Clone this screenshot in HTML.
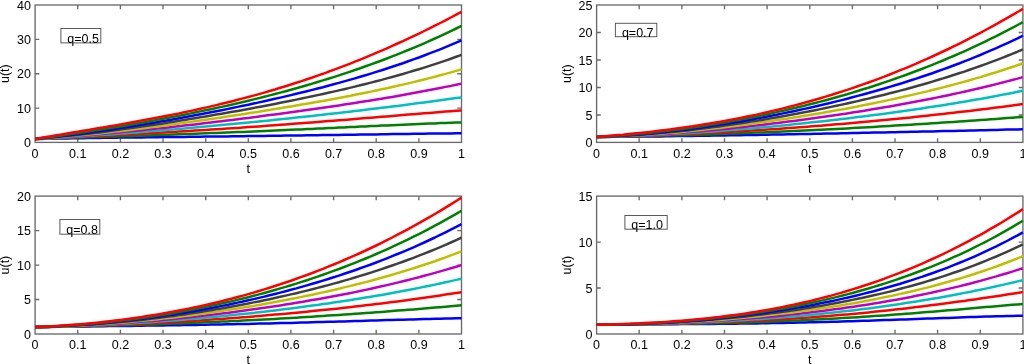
<!DOCTYPE html>
<html><head><meta charset="utf-8"><title>u(t) plots</title>
<style>
html,body{margin:0;padding:0;background:#fff;}
body{width:1024px;height:364px;overflow:hidden;}
svg{display:block;will-change:transform;}
text{font-family:"Liberation Sans",sans-serif;font-size:12.5px;fill:#000;}
.c{fill:none;stroke-width:2.5;stroke-linejoin:round;stroke-linecap:butt;}
.ax{fill:none;stroke:#6a6a6a;stroke-width:1.35;}
.bx{fill:#fff;stroke:#5a5a5a;stroke-width:1;}
</style></head><body>
<svg width="1024" height="364" viewBox="0 0 1024 364">
<rect x="0" y="0" width="1024" height="364" fill="#ffffff"/>

<g>
<rect class="ax" x="35.1" y="5.0" width="426.4" height="137.4"/>
<path class="ax" d="M77.7 142.4v-4.2M77.7 5.0v4.2M120.4 142.4v-4.2M120.4 5.0v4.2M163.0 142.4v-4.2M163.0 5.0v4.2M205.7 142.4v-4.2M205.7 5.0v4.2M248.3 142.4v-4.2M248.3 5.0v4.2M290.9 142.4v-4.2M290.9 5.0v4.2M333.6 142.4v-4.2M333.6 5.0v4.2M376.2 142.4v-4.2M376.2 5.0v4.2M418.9 142.4v-4.2M418.9 5.0v4.2M35.1 108.1h4.2M461.5 108.1h-4.2M35.1 73.7h4.2M461.5 73.7h-4.2M35.1 39.4h4.2M461.5 39.4h-4.2"/>
<polyline class="c" stroke="#0000ff" points="35.1,139.0 40.4,138.9 45.8,138.8 51.1,138.7 56.4,138.6 61.8,138.5 67.1,138.4 72.4,138.3 77.7,138.2 83.1,138.2 88.4,138.1 93.7,138.0 99.1,137.9 104.4,137.8 109.7,137.8 115.0,137.7 120.4,137.6 125.7,137.6 131.0,137.5 136.4,137.4 141.7,137.4 147.0,137.3 152.4,137.2 157.7,137.2 163.0,137.1 168.3,137.1 173.7,137.0 179.0,136.9 184.3,136.9 189.7,136.8 195.0,136.7 200.3,136.7 205.7,136.6 211.0,136.6 216.3,136.5 221.6,136.4 227.0,136.4 232.3,136.3 237.6,136.2 243.0,136.2 248.3,136.1 253.6,136.0 259.0,136.0 264.3,135.9 269.6,135.8 274.9,135.8 280.3,135.7 285.6,135.6 290.9,135.6 296.3,135.5 301.6,135.4 306.9,135.3 312.3,135.3 317.6,135.2 322.9,135.1 328.2,135.0 333.6,135.0 338.9,134.9 344.2,134.8 349.6,134.7 354.9,134.7 360.2,134.6 365.6,134.5 370.9,134.4 376.2,134.4 381.6,134.3 386.9,134.2 392.2,134.1 397.5,134.1 402.9,134.0 408.2,133.9 413.5,133.8 418.9,133.8 424.2,133.7 429.5,133.6 434.9,133.6 440.2,133.5 445.5,133.4 450.8,133.4 456.2,133.3 461.5,133.2"/>
<polyline class="c" stroke="#008000" points="35.1,139.0 40.4,138.8 45.8,138.6 51.1,138.4 56.4,138.3 61.8,138.1 67.1,137.9 72.4,137.7 77.7,137.6 83.1,137.4 88.4,137.2 93.7,137.0 99.1,136.9 104.4,136.7 109.7,136.5 115.0,136.4 120.4,136.2 125.7,136.0 131.0,135.9 136.4,135.7 141.7,135.5 147.0,135.4 152.4,135.2 157.7,135.0 163.0,134.8 168.3,134.7 173.7,134.5 179.0,134.3 184.3,134.1 189.7,133.9 195.0,133.7 200.3,133.5 205.7,133.3 211.0,133.1 216.3,132.9 221.6,132.7 227.0,132.5 232.3,132.3 237.6,132.1 243.0,131.9 248.3,131.7 253.6,131.5 259.0,131.2 264.3,131.0 269.6,130.8 274.9,130.5 280.3,130.3 285.6,130.1 290.9,129.8 296.3,129.6 301.6,129.4 306.9,129.1 312.3,128.9 317.6,128.6 322.9,128.4 328.2,128.1 333.6,127.9 338.9,127.6 344.2,127.4 349.6,127.1 354.9,126.9 360.2,126.6 365.6,126.4 370.9,126.1 376.2,125.9 381.6,125.6 386.9,125.4 392.2,125.2 397.5,124.9 402.9,124.7 408.2,124.5 413.5,124.2 418.9,124.0 424.2,123.8 429.5,123.6 434.9,123.4 440.2,123.1 445.5,122.9 450.8,122.8 456.2,122.6 461.5,122.4"/>
<polyline class="c" stroke="#ff0000" points="35.1,139.0 40.4,138.8 45.8,138.5 51.1,138.3 56.4,138.0 61.8,137.8 67.1,137.5 72.4,137.3 77.7,137.0 83.1,136.8 88.4,136.5 93.7,136.2 99.1,136.0 104.4,135.7 109.7,135.4 115.0,135.2 120.4,134.9 125.7,134.6 131.0,134.3 136.4,134.0 141.7,133.7 147.0,133.4 152.4,133.1 157.7,132.8 163.0,132.5 168.3,132.2 173.7,131.9 179.0,131.6 184.3,131.3 189.7,131.0 195.0,130.6 200.3,130.3 205.7,130.0 211.0,129.6 216.3,129.3 221.6,128.9 227.0,128.6 232.3,128.2 237.6,127.9 243.0,127.5 248.3,127.1 253.6,126.7 259.0,126.4 264.3,126.0 269.6,125.6 274.9,125.2 280.3,124.8 285.6,124.4 290.9,124.0 296.3,123.6 301.6,123.2 306.9,122.8 312.3,122.4 317.6,122.0 322.9,121.6 328.2,121.1 333.6,120.7 338.9,120.3 344.2,119.9 349.6,119.4 354.9,119.0 360.2,118.6 365.6,118.1 370.9,117.7 376.2,117.3 381.6,116.8 386.9,116.4 392.2,116.0 397.5,115.5 402.9,115.1 408.2,114.6 413.5,114.2 418.9,113.8 424.2,113.3 429.5,112.9 434.9,112.5 440.2,112.0 445.5,111.6 450.8,111.2 456.2,110.8 461.5,110.4"/>
<polyline class="c" stroke="#00bfbf" points="35.1,139.0 40.4,138.7 45.8,138.4 51.1,138.1 56.4,137.8 61.8,137.5 67.1,137.2 72.4,136.9 77.7,136.5 83.1,136.2 88.4,135.8 93.7,135.5 99.1,135.1 104.4,134.7 109.7,134.4 115.0,134.0 120.4,133.6 125.7,133.2 131.0,132.8 136.4,132.4 141.7,132.0 147.0,131.5 152.4,131.1 157.7,130.7 163.0,130.2 168.3,129.8 173.7,129.4 179.0,128.9 184.3,128.4 189.7,128.0 195.0,127.5 200.3,127.0 205.7,126.5 211.0,126.1 216.3,125.6 221.6,125.1 227.0,124.6 232.3,124.1 237.6,123.5 243.0,123.0 248.3,122.5 253.6,122.0 259.0,121.4 264.3,120.9 269.6,120.4 274.9,119.8 280.3,119.3 285.6,118.7 290.9,118.2 296.3,117.6 301.6,117.0 306.9,116.4 312.3,115.9 317.6,115.3 322.9,114.7 328.2,114.1 333.6,113.5 338.9,112.9 344.2,112.3 349.6,111.7 354.9,111.0 360.2,110.4 365.6,109.8 370.9,109.1 376.2,108.5 381.6,107.8 386.9,107.2 392.2,106.5 397.5,105.9 402.9,105.2 408.2,104.5 413.5,103.8 418.9,103.1 424.2,102.4 429.5,101.7 434.9,101.0 440.2,100.3 445.5,99.6 450.8,98.8 456.2,98.1 461.5,97.4"/>
<polyline class="c" stroke="#bf00bf" points="35.1,139.0 40.4,138.7 45.8,138.4 51.1,138.0 56.4,137.7 61.8,137.3 67.1,136.9 72.4,136.5 77.7,136.1 83.1,135.6 88.4,135.2 93.7,134.7 99.1,134.3 104.4,133.8 109.7,133.3 115.0,132.8 120.4,132.3 125.7,131.8 131.0,131.3 136.4,130.7 141.7,130.2 147.0,129.6 152.4,129.1 157.7,128.5 163.0,127.9 168.3,127.4 173.7,126.8 179.0,126.2 184.3,125.6 189.7,125.0 195.0,124.4 200.3,123.7 205.7,123.1 211.0,122.5 216.3,121.8 221.6,121.2 227.0,120.6 232.3,119.9 237.6,119.2 243.0,118.6 248.3,117.9 253.6,117.2 259.0,116.5 264.3,115.8 269.6,115.1 274.9,114.4 280.3,113.7 285.6,113.0 290.9,112.3 296.3,111.5 301.6,110.8 306.9,110.1 312.3,109.3 317.6,108.5 322.9,107.8 328.2,107.0 333.6,106.2 338.9,105.4 344.2,104.6 349.6,103.8 354.9,103.0 360.2,102.1 365.6,101.3 370.9,100.4 376.2,99.6 381.6,98.7 386.9,97.8 392.2,96.9 397.5,95.9 402.9,95.0 408.2,94.1 413.5,93.1 418.9,92.1 424.2,91.1 429.5,90.1 434.9,89.1 440.2,88.0 445.5,86.9 450.8,85.9 456.2,84.7 461.5,83.6"/>
<polyline class="c" stroke="#bfbf00" points="35.1,139.0 40.4,138.7 45.8,138.3 51.1,137.9 56.4,137.4 61.8,137.0 67.1,136.5 72.4,136.0 77.7,135.5 83.1,135.0 88.4,134.5 93.7,133.9 99.1,133.4 104.4,132.8 109.7,132.2 115.0,131.6 120.4,131.0 125.7,130.4 131.0,129.7 136.4,129.1 141.7,128.4 147.0,127.7 152.4,127.0 157.7,126.4 163.0,125.7 168.3,124.9 173.7,124.2 179.0,123.5 184.3,122.8 189.7,122.0 195.0,121.3 200.3,120.5 205.7,119.7 211.0,119.0 216.3,118.2 221.6,117.4 227.0,116.6 232.3,115.8 237.6,115.0 243.0,114.2 248.3,113.3 253.6,112.5 259.0,111.7 264.3,110.8 269.6,110.0 274.9,109.1 280.3,108.2 285.6,107.3 290.9,106.4 296.3,105.5 301.6,104.6 306.9,103.7 312.3,102.8 317.6,101.8 322.9,100.9 328.2,99.9 333.6,98.9 338.9,97.9 344.2,96.9 349.6,95.9 354.9,94.8 360.2,93.8 365.6,92.7 370.9,91.6 376.2,90.5 381.6,89.3 386.9,88.2 392.2,87.0 397.5,85.8 402.9,84.6 408.2,83.4 413.5,82.1 418.9,80.8 424.2,79.5 429.5,78.1 434.9,76.7 440.2,75.3 445.5,73.9 450.8,72.4 456.2,70.9 461.5,69.4"/>
<polyline class="c" stroke="#404040" points="35.1,139.0 40.4,138.6 45.8,138.1 51.1,137.6 56.4,137.1 61.8,136.6 67.1,136.1 72.4,135.5 77.7,134.9 83.1,134.3 88.4,133.7 93.7,133.0 99.1,132.4 104.4,131.7 109.7,131.0 115.0,130.3 120.4,129.6 125.7,128.8 131.0,128.1 136.4,127.3 141.7,126.6 147.0,125.8 152.4,125.0 157.7,124.2 163.0,123.4 168.3,122.5 173.7,121.7 179.0,120.8 184.3,120.0 189.7,119.1 195.0,118.2 200.3,117.3 205.7,116.4 211.0,115.5 216.3,114.6 221.6,113.7 227.0,112.8 232.3,111.8 237.6,110.9 243.0,109.9 248.3,108.9 253.6,107.9 259.0,106.9 264.3,105.9 269.6,104.9 274.9,103.9 280.3,102.8 285.6,101.8 290.9,100.7 296.3,99.6 301.6,98.5 306.9,97.4 312.3,96.3 317.6,95.1 322.9,94.0 328.2,92.8 333.6,91.6 338.9,90.4 344.2,89.2 349.6,87.9 354.9,86.6 360.2,85.3 365.6,84.0 370.9,82.6 376.2,81.3 381.6,79.9 386.9,78.4 392.2,77.0 397.5,75.5 402.9,74.0 408.2,72.4 413.5,70.8 418.9,69.2 424.2,67.6 429.5,65.9 434.9,64.1 440.2,62.4 445.5,60.6 450.8,58.7 456.2,56.8 461.5,54.9"/>
<polyline class="c" stroke="#0000ff" points="35.1,139.0 40.4,138.5 45.8,137.9 51.1,137.3 56.4,136.7 61.8,136.1 67.1,135.5 72.4,134.8 77.7,134.1 83.1,133.4 88.4,132.7 93.7,132.0 99.1,131.2 104.4,130.4 109.7,129.7 115.0,128.9 120.4,128.1 125.7,127.2 131.0,126.4 136.4,125.5 141.7,124.7 147.0,123.8 152.4,122.9 157.7,122.0 163.0,121.1 168.3,120.2 173.7,119.2 179.0,118.3 184.3,117.3 189.7,116.3 195.0,115.3 200.3,114.3 205.7,113.3 211.0,112.3 216.3,111.2 221.6,110.2 227.0,109.1 232.3,108.0 237.6,106.9 243.0,105.8 248.3,104.7 253.6,103.5 259.0,102.4 264.3,101.2 269.6,100.0 274.9,98.8 280.3,97.6 285.6,96.4 290.9,95.1 296.3,93.8 301.6,92.5 306.9,91.2 312.3,89.9 317.6,88.5 322.9,87.2 328.2,85.7 333.6,84.3 338.9,82.9 344.2,81.4 349.6,79.9 354.9,78.4 360.2,76.8 365.6,75.2 370.9,73.6 376.2,71.9 381.6,70.3 386.9,68.5 392.2,66.8 397.5,65.0 402.9,63.2 408.2,61.3 413.5,59.4 418.9,57.5 424.2,55.5 429.5,53.4 434.9,51.4 440.2,49.3 445.5,47.1 450.8,44.9 456.2,42.6 461.5,40.3"/>
<polyline class="c" stroke="#008000" points="35.1,139.0 40.4,138.3 45.8,137.6 51.1,136.9 56.4,136.1 61.8,135.4 67.1,134.6 72.4,133.8 77.7,133.1 83.1,132.3 88.4,131.5 93.7,130.6 99.1,129.8 104.4,129.0 109.7,128.1 115.0,127.2 120.4,126.4 125.7,125.5 131.0,124.6 136.4,123.6 141.7,122.7 147.0,121.7 152.4,120.8 157.7,119.8 163.0,118.8 168.3,117.8 173.7,116.8 179.0,115.8 184.3,114.7 189.7,113.6 195.0,112.5 200.3,111.4 205.7,110.3 211.0,109.2 216.3,108.0 221.6,106.9 227.0,105.7 232.3,104.5 237.6,103.2 243.0,102.0 248.3,100.7 253.6,99.4 259.0,98.1 264.3,96.7 269.6,95.4 274.9,94.0 280.3,92.6 285.6,91.2 290.9,89.7 296.3,88.2 301.6,86.7 306.9,85.2 312.3,83.6 317.6,82.0 322.9,80.4 328.2,78.8 333.6,77.1 338.9,75.4 344.2,73.6 349.6,71.9 354.9,70.0 360.2,68.2 365.6,66.3 370.9,64.4 376.2,62.5 381.6,60.5 386.9,58.5 392.2,56.4 397.5,54.3 402.9,52.2 408.2,50.0 413.5,47.8 418.9,45.6 424.2,43.3 429.5,40.9 434.9,38.5 440.2,36.1 445.5,33.6 450.8,31.1 456.2,28.5 461.5,25.9"/>
<polyline class="c" stroke="#ff0000" points="35.1,139.0 40.4,138.1 45.8,137.1 51.1,136.2 56.4,135.3 61.8,134.4 67.1,133.5 72.4,132.6 77.7,131.7 83.1,130.8 88.4,129.9 93.7,129.0 99.1,128.1 104.4,127.2 109.7,126.3 115.0,125.4 120.4,124.4 125.7,123.5 131.0,122.6 136.4,121.6 141.7,120.6 147.0,119.6 152.4,118.6 157.7,117.6 163.0,116.6 168.3,115.5 173.7,114.4 179.0,113.4 184.3,112.2 189.7,111.1 195.0,110.0 200.3,108.8 205.7,107.6 211.0,106.4 216.3,105.1 221.6,103.8 227.0,102.5 232.3,101.2 237.6,99.8 243.0,98.4 248.3,97.0 253.6,95.6 259.0,94.1 264.3,92.6 269.6,91.0 274.9,89.5 280.3,87.8 285.6,86.2 290.9,84.5 296.3,82.8 301.6,81.1 306.9,79.3 312.3,77.5 317.6,75.6 322.9,73.8 328.2,71.8 333.6,69.9 338.9,67.9 344.2,65.9 349.6,63.8 354.9,61.7 360.2,59.6 365.6,57.4 370.9,55.2 376.2,52.9 381.6,50.6 386.9,48.3 392.2,45.9 397.5,43.5 402.9,41.1 408.2,38.6 413.5,36.1 418.9,33.6 424.2,31.0 429.5,28.4 434.9,25.7 440.2,23.0 445.5,20.3 450.8,17.5 456.2,14.7 461.5,11.9"/>
<text x="35.1" y="157.8" text-anchor="middle">0</text>
<text x="77.7" y="157.8" text-anchor="middle">0.1</text>
<text x="120.4" y="157.8" text-anchor="middle">0.2</text>
<text x="163.0" y="157.8" text-anchor="middle">0.3</text>
<text x="205.7" y="157.8" text-anchor="middle">0.4</text>
<text x="248.3" y="157.8" text-anchor="middle">0.5</text>
<text x="290.9" y="157.8" text-anchor="middle">0.6</text>
<text x="333.6" y="157.8" text-anchor="middle">0.7</text>
<text x="376.2" y="157.8" text-anchor="middle">0.8</text>
<text x="418.9" y="157.8" text-anchor="middle">0.9</text>
<text x="461.5" y="157.8" text-anchor="middle">1</text>
<text x="30.9" y="147.0" text-anchor="end">0</text>
<text x="30.9" y="112.7" text-anchor="end">10</text>
<text x="30.9" y="78.3" text-anchor="end">20</text>
<text x="30.9" y="44.0" text-anchor="end">30</text>
<text x="30.9" y="9.6" text-anchor="end">40</text>
<text x="248.3" y="172.8" text-anchor="middle">t</text>
<text transform="translate(9.2 73.7) rotate(-90)" text-anchor="middle">u(t)</text>
<rect class="bx" x="60.9" y="28.5" width="39.9" height="14.4"/>
<text x="67.3" y="42.9">q=0.5</text>
</g>
<g>
<rect class="ax" x="596.6" y="5.0" width="426.3" height="137.4"/>
<path class="ax" d="M639.2 142.4v-4.2M639.2 5.0v4.2M681.9 142.4v-4.2M681.9 5.0v4.2M724.5 142.4v-4.2M724.5 5.0v4.2M767.1 142.4v-4.2M767.1 5.0v4.2M809.8 142.4v-4.2M809.8 5.0v4.2M852.4 142.4v-4.2M852.4 5.0v4.2M895.0 142.4v-4.2M895.0 5.0v4.2M937.6 142.4v-4.2M937.6 5.0v4.2M980.3 142.4v-4.2M980.3 5.0v4.2M596.6 115.0h4.2M1022.9 115.0h-4.2M596.6 87.5h4.2M1022.9 87.5h-4.2M596.6 60.0h4.2M1022.9 60.0h-4.2M596.6 32.5h4.2M1022.9 32.5h-4.2"/>
<polyline class="c" stroke="#0000ff" points="596.6,137.0 601.9,136.9 607.3,136.9 612.6,136.8 617.9,136.8 623.2,136.8 628.6,136.7 633.9,136.7 639.2,136.6 644.6,136.5 649.9,136.5 655.2,136.4 660.5,136.4 665.9,136.3 671.2,136.2 676.5,136.1 681.9,136.1 687.2,136.0 692.5,135.9 697.8,135.8 703.2,135.8 708.5,135.7 713.8,135.6 719.2,135.5 724.5,135.4 729.8,135.3 735.1,135.3 740.5,135.2 745.8,135.1 751.1,135.0 756.5,134.9 761.8,134.8 767.1,134.7 772.4,134.6 777.8,134.5 783.1,134.4 788.4,134.3 793.8,134.2 799.1,134.1 804.4,134.0 809.8,133.9 815.1,133.8 820.4,133.7 825.7,133.6 831.1,133.5 836.4,133.4 841.7,133.3 847.1,133.2 852.4,133.1 857.7,133.0 863.0,132.8 868.4,132.7 873.7,132.6 879.0,132.5 884.4,132.4 889.7,132.3 895.0,132.2 900.3,132.1 905.7,132.0 911.0,131.8 916.3,131.7 921.7,131.6 927.0,131.5 932.3,131.4 937.6,131.3 943.0,131.1 948.3,131.0 953.6,130.9 959.0,130.8 964.3,130.7 969.6,130.5 974.9,130.4 980.3,130.3 985.6,130.2 990.9,130.0 996.3,129.9 1001.6,129.8 1006.9,129.6 1012.2,129.5 1017.6,129.4 1022.9,129.2"/>
<polyline class="c" stroke="#008000" points="596.6,137.0 601.9,136.9 607.3,136.8 612.6,136.7 617.9,136.6 623.2,136.5 628.6,136.4 633.9,136.3 639.2,136.2 644.6,136.1 649.9,136.0 655.2,135.9 660.5,135.7 665.9,135.6 671.2,135.5 676.5,135.3 681.9,135.2 687.2,135.0 692.5,134.9 697.8,134.7 703.2,134.5 708.5,134.4 713.8,134.2 719.2,134.0 724.5,133.8 729.8,133.6 735.1,133.4 740.5,133.2 745.8,133.0 751.1,132.8 756.5,132.6 761.8,132.4 767.1,132.2 772.4,132.0 777.8,131.7 783.1,131.5 788.4,131.3 793.8,131.0 799.1,130.8 804.4,130.5 809.8,130.3 815.1,130.0 820.4,129.7 825.7,129.5 831.1,129.2 836.4,128.9 841.7,128.7 847.1,128.4 852.4,128.1 857.7,127.8 863.0,127.5 868.4,127.2 873.7,126.9 879.0,126.6 884.4,126.3 889.7,126.0 895.0,125.6 900.3,125.3 905.7,125.0 911.0,124.7 916.3,124.3 921.7,124.0 927.0,123.7 932.3,123.3 937.6,123.0 943.0,122.6 948.3,122.3 953.6,121.9 959.0,121.5 964.3,121.2 969.6,120.8 974.9,120.4 980.3,120.0 985.6,119.7 990.9,119.3 996.3,118.9 1001.6,118.5 1006.9,118.1 1012.2,117.7 1017.6,117.3 1022.9,116.9"/>
<polyline class="c" stroke="#ff0000" points="596.6,137.0 601.9,136.9 607.3,136.8 612.6,136.6 617.9,136.5 623.2,136.4 628.6,136.2 633.9,136.1 639.2,135.9 644.6,135.8 649.9,135.6 655.2,135.4 660.5,135.2 665.9,135.0 671.2,134.8 676.5,134.6 681.9,134.3 687.2,134.1 692.5,133.8 697.8,133.6 703.2,133.3 708.5,133.1 713.8,132.8 719.2,132.5 724.5,132.2 729.8,131.9 735.1,131.6 740.5,131.3 745.8,130.9 751.1,130.6 756.5,130.3 761.8,129.9 767.1,129.6 772.4,129.2 777.8,128.9 783.1,128.5 788.4,128.1 793.8,127.7 799.1,127.3 804.4,126.9 809.8,126.5 815.1,126.1 820.4,125.7 825.7,125.2 831.1,124.8 836.4,124.3 841.7,123.9 847.1,123.4 852.4,123.0 857.7,122.5 863.0,122.0 868.4,121.5 873.7,121.0 879.0,120.5 884.4,120.0 889.7,119.5 895.0,119.0 900.3,118.5 905.7,117.9 911.0,117.4 916.3,116.8 921.7,116.3 927.0,115.7 932.3,115.1 937.6,114.5 943.0,113.9 948.3,113.3 953.6,112.7 959.0,112.1 964.3,111.5 969.6,110.9 974.9,110.2 980.3,109.6 985.6,108.9 990.9,108.2 996.3,107.6 1001.6,106.9 1006.9,106.2 1012.2,105.5 1017.6,104.8 1022.9,104.0"/>
<polyline class="c" stroke="#00bfbf" points="596.6,137.0 601.9,136.9 607.3,136.7 612.6,136.6 617.9,136.5 623.2,136.3 628.6,136.1 633.9,135.9 639.2,135.7 644.6,135.5 649.9,135.2 655.2,135.0 660.5,134.7 665.9,134.4 671.2,134.1 676.5,133.8 681.9,133.5 687.2,133.2 692.5,132.8 697.8,132.5 703.2,132.1 708.5,131.7 713.8,131.4 719.2,131.0 724.5,130.6 729.8,130.1 735.1,129.7 740.5,129.3 745.8,128.8 751.1,128.4 756.5,127.9 761.8,127.4 767.1,126.9 772.4,126.4 777.8,125.9 783.1,125.4 788.4,124.9 793.8,124.3 799.1,123.8 804.4,123.2 809.8,122.6 815.1,122.1 820.4,121.5 825.7,120.9 831.1,120.3 836.4,119.7 841.7,119.1 847.1,118.4 852.4,117.8 857.7,117.1 863.0,116.5 868.4,115.8 873.7,115.1 879.0,114.4 884.4,113.7 889.7,113.0 895.0,112.2 900.3,111.5 905.7,110.8 911.0,110.0 916.3,109.2 921.7,108.4 927.0,107.6 932.3,106.8 937.6,106.0 943.0,105.2 948.3,104.3 953.6,103.4 959.0,102.6 964.3,101.7 969.6,100.7 974.9,99.8 980.3,98.9 985.6,97.9 990.9,96.9 996.3,96.0 1001.6,94.9 1006.9,93.9 1012.2,92.9 1017.6,91.8 1022.9,90.7"/>
<polyline class="c" stroke="#bf00bf" points="596.6,137.0 601.9,136.8 607.3,136.7 612.6,136.6 617.9,136.4 623.2,136.2 628.6,136.0 633.9,135.7 639.2,135.5 644.6,135.2 649.9,134.9 655.2,134.6 660.5,134.2 665.9,133.9 671.2,133.5 676.5,133.1 681.9,132.7 687.2,132.3 692.5,131.8 697.8,131.4 703.2,130.9 708.5,130.4 713.8,129.9 719.2,129.4 724.5,128.9 729.8,128.4 735.1,127.8 740.5,127.2 745.8,126.7 751.1,126.1 756.5,125.5 761.8,124.9 767.1,124.2 772.4,123.6 777.8,122.9 783.1,122.3 788.4,121.6 793.8,120.9 799.1,120.2 804.4,119.5 809.8,118.8 815.1,118.0 820.4,117.3 825.7,116.5 831.1,115.8 836.4,115.0 841.7,114.2 847.1,113.4 852.4,112.6 857.7,111.7 863.0,110.9 868.4,110.0 873.7,109.1 879.0,108.2 884.4,107.3 889.7,106.4 895.0,105.5 900.3,104.5 905.7,103.6 911.0,102.6 916.3,101.6 921.7,100.5 927.0,99.5 932.3,98.5 937.6,97.4 943.0,96.3 948.3,95.2 953.6,94.0 959.0,92.9 964.3,91.7 969.6,90.5 974.9,89.3 980.3,88.0 985.6,86.8 990.9,85.5 996.3,84.1 1001.6,82.8 1006.9,81.4 1012.2,80.0 1017.6,78.6 1022.9,77.1"/>
<polyline class="c" stroke="#bfbf00" points="596.6,137.0 601.9,136.8 607.3,136.7 612.6,136.5 617.9,136.3 623.2,136.1 628.6,135.8 633.9,135.5 639.2,135.2 644.6,134.9 649.9,134.5 655.2,134.1 660.5,133.7 665.9,133.3 671.2,132.8 676.5,132.4 681.9,131.9 687.2,131.3 692.5,130.8 697.8,130.3 703.2,129.7 708.5,129.1 713.8,128.5 719.2,127.9 724.5,127.2 729.8,126.6 735.1,125.9 740.5,125.2 745.8,124.5 751.1,123.8 756.5,123.1 761.8,122.3 767.1,121.6 772.4,120.8 777.8,120.0 783.1,119.2 788.4,118.4 793.8,117.5 799.1,116.7 804.4,115.8 809.8,115.0 815.1,114.1 820.4,113.2 825.7,112.2 831.1,111.3 836.4,110.3 841.7,109.4 847.1,108.4 852.4,107.4 857.7,106.4 863.0,105.3 868.4,104.3 873.7,103.2 879.0,102.1 884.4,101.0 889.7,99.9 895.0,98.7 900.3,97.5 905.7,96.3 911.0,95.1 916.3,93.9 921.7,92.6 927.0,91.4 932.3,90.0 937.6,88.7 943.0,87.4 948.3,86.0 953.6,84.6 959.0,83.1 964.3,81.7 969.6,80.2 974.9,78.6 980.3,77.1 985.6,75.5 990.9,73.8 996.3,72.2 1001.6,70.5 1006.9,68.7 1012.2,67.0 1017.6,65.2 1022.9,63.3"/>
<polyline class="c" stroke="#404040" points="596.6,137.0 601.9,136.8 607.3,136.6 612.6,136.4 617.9,136.2 623.2,135.9 628.6,135.6 633.9,135.2 639.2,134.9 644.6,134.5 649.9,134.0 655.2,133.6 660.5,133.1 665.9,132.6 671.2,132.1 676.5,131.5 681.9,131.0 687.2,130.4 692.5,129.8 697.8,129.1 703.2,128.5 708.5,127.8 713.8,127.1 719.2,126.4 724.5,125.6 729.8,124.8 735.1,124.1 740.5,123.3 745.8,122.5 751.1,121.6 756.5,120.8 761.8,119.9 767.1,119.0 772.4,118.1 777.8,117.2 783.1,116.2 788.4,115.3 793.8,114.3 799.1,113.3 804.4,112.3 809.8,111.2 815.1,110.2 820.4,109.1 825.7,108.0 831.1,106.9 836.4,105.8 841.7,104.6 847.1,103.5 852.4,102.3 857.7,101.1 863.0,99.8 868.4,98.6 873.7,97.3 879.0,96.0 884.4,94.7 889.7,93.3 895.0,92.0 900.3,90.6 905.7,89.2 911.0,87.7 916.3,86.2 921.7,84.7 927.0,83.2 932.3,81.6 937.6,80.0 943.0,78.4 948.3,76.7 953.6,75.0 959.0,73.3 964.3,71.6 969.6,69.7 974.9,67.9 980.3,66.0 985.6,64.1 990.9,62.1 996.3,60.1 1001.6,58.1 1006.9,56.0 1012.2,53.9 1017.6,51.7 1022.9,49.4"/>
<polyline class="c" stroke="#0000ff" points="596.6,137.0 601.9,136.8 607.3,136.5 612.6,136.2 617.9,135.9 623.2,135.6 628.6,135.2 633.9,134.8 639.2,134.4 644.6,134.0 649.9,133.5 655.2,133.0 660.5,132.4 665.9,131.9 671.2,131.3 676.5,130.7 681.9,130.0 687.2,129.4 692.5,128.7 697.8,127.9 703.2,127.2 708.5,126.4 713.8,125.6 719.2,124.8 724.5,124.0 729.8,123.2 735.1,122.3 740.5,121.4 745.8,120.5 751.1,119.5 756.5,118.5 761.8,117.6 767.1,116.5 772.4,115.5 777.8,114.5 783.1,113.4 788.4,112.3 793.8,111.2 799.1,110.0 804.4,108.9 809.8,107.7 815.1,106.5 820.4,105.2 825.7,104.0 831.1,102.7 836.4,101.4 841.7,100.1 847.1,98.7 852.4,97.3 857.7,95.9 863.0,94.5 868.4,93.0 873.7,91.5 879.0,90.0 884.4,88.5 889.7,86.9 895.0,85.3 900.3,83.7 905.7,82.0 911.0,80.3 916.3,78.6 921.7,76.8 927.0,75.0 932.3,73.2 937.6,71.3 943.0,69.4 948.3,67.5 953.6,65.5 959.0,63.5 964.3,61.4 969.6,59.3 974.9,57.2 980.3,55.0 985.6,52.7 990.9,50.4 996.3,48.1 1001.6,45.7 1006.9,43.3 1012.2,40.8 1017.6,38.3 1022.9,35.7"/>
<polyline class="c" stroke="#008000" points="596.6,137.0 601.9,136.7 607.3,136.3 612.6,136.0 617.9,135.6 623.2,135.2 628.6,134.8 633.9,134.3 639.2,133.8 644.6,133.3 649.9,132.8 655.2,132.2 660.5,131.6 665.9,131.0 671.2,130.3 676.5,129.7 681.9,129.0 687.2,128.2 692.5,127.5 697.8,126.7 703.2,125.9 708.5,125.1 713.8,124.2 719.2,123.3 724.5,122.4 729.8,121.5 735.1,120.6 740.5,119.6 745.8,118.6 751.1,117.5 756.5,116.5 761.8,115.4 767.1,114.3 772.4,113.1 777.8,111.9 783.1,110.7 788.4,109.5 793.8,108.3 799.1,107.0 804.4,105.7 809.8,104.3 815.1,103.0 820.4,101.6 825.7,100.2 831.1,98.7 836.4,97.2 841.7,95.7 847.1,94.2 852.4,92.6 857.7,91.0 863.0,89.3 868.4,87.7 873.7,86.0 879.0,84.2 884.4,82.4 889.7,80.6 895.0,78.8 900.3,76.9 905.7,75.0 911.0,73.0 916.3,71.0 921.7,69.0 927.0,66.9 932.3,64.8 937.6,62.7 943.0,60.5 948.3,58.2 953.6,56.0 959.0,53.6 964.3,51.3 969.6,48.9 974.9,46.4 980.3,43.9 985.6,41.3 990.9,38.7 996.3,36.1 1001.6,33.4 1006.9,30.7 1012.2,27.9 1017.6,25.0 1022.9,22.1"/>
<polyline class="c" stroke="#ff0000" points="596.6,137.0 601.9,136.5 607.3,136.1 612.6,135.6 617.9,135.1 623.2,134.7 628.6,134.1 633.9,133.6 639.2,133.0 644.6,132.5 649.9,131.9 655.2,131.3 660.5,130.6 665.9,129.9 671.2,129.3 676.5,128.5 681.9,127.8 687.2,127.0 692.5,126.3 697.8,125.4 703.2,124.6 708.5,123.7 713.8,122.8 719.2,121.9 724.5,120.9 729.8,119.9 735.1,118.9 740.5,117.9 745.8,116.8 751.1,115.7 756.5,114.6 761.8,113.4 767.1,112.2 772.4,110.9 777.8,109.7 783.1,108.4 788.4,107.0 793.8,105.6 799.1,104.2 804.4,102.8 809.8,101.3 815.1,99.8 820.4,98.2 825.7,96.6 831.1,95.0 836.4,93.3 841.7,91.6 847.1,89.9 852.4,88.1 857.7,86.3 863.0,84.4 868.4,82.5 873.7,80.6 879.0,78.6 884.4,76.6 889.7,74.5 895.0,72.4 900.3,70.2 905.7,68.1 911.0,65.8 916.3,63.6 921.7,61.2 927.0,58.9 932.3,56.5 937.6,54.0 943.0,51.5 948.3,49.0 953.6,46.4 959.0,43.8 964.3,41.1 969.6,38.4 974.9,35.7 980.3,32.9 985.6,30.0 990.9,27.2 996.3,24.2 1001.6,21.2 1006.9,18.2 1012.2,15.1 1017.6,12.0 1022.9,8.9"/>
<text x="596.6" y="157.8" text-anchor="middle">0</text>
<text x="639.2" y="157.8" text-anchor="middle">0.1</text>
<text x="681.9" y="157.8" text-anchor="middle">0.2</text>
<text x="724.5" y="157.8" text-anchor="middle">0.3</text>
<text x="767.1" y="157.8" text-anchor="middle">0.4</text>
<text x="809.8" y="157.8" text-anchor="middle">0.5</text>
<text x="852.4" y="157.8" text-anchor="middle">0.6</text>
<text x="895.0" y="157.8" text-anchor="middle">0.7</text>
<text x="937.6" y="157.8" text-anchor="middle">0.8</text>
<text x="980.3" y="157.8" text-anchor="middle">0.9</text>
<text x="1022.9" y="157.8" text-anchor="middle">1</text>
<text x="592.4" y="147.0" text-anchor="end">0</text>
<text x="592.4" y="119.6" text-anchor="end">5</text>
<text x="592.4" y="92.1" text-anchor="end">10</text>
<text x="592.4" y="64.6" text-anchor="end">15</text>
<text x="592.4" y="37.1" text-anchor="end">20</text>
<text x="592.4" y="9.6" text-anchor="end">25</text>
<text x="809.8" y="172.8" text-anchor="middle">t</text>
<text transform="translate(570.7 73.7) rotate(-90)" text-anchor="middle">u(t)</text>
<rect class="bx" x="615.4" y="23.3" width="41.4" height="13.4"/>
<text x="621.9" y="36.7">q=0.7</text>
</g>
<g>
<rect class="ax" x="35.1" y="196.1" width="426.4" height="137.9"/>
<path class="ax" d="M77.7 334.0v-4.2M77.7 196.1v4.2M120.4 334.0v-4.2M120.4 196.1v4.2M163.0 334.0v-4.2M163.0 196.1v4.2M205.7 334.0v-4.2M205.7 196.1v4.2M248.3 334.0v-4.2M248.3 196.1v4.2M290.9 334.0v-4.2M290.9 196.1v4.2M333.6 334.0v-4.2M333.6 196.1v4.2M376.2 334.0v-4.2M376.2 196.1v4.2M418.9 334.0v-4.2M418.9 196.1v4.2M35.1 299.5h4.2M461.5 299.5h-4.2M35.1 265.1h4.2M461.5 265.1h-4.2M35.1 230.6h4.2M461.5 230.6h-4.2"/>
<polyline class="c" stroke="#0000ff" points="35.1,327.1 40.4,327.0 45.8,326.9 51.1,326.9 56.4,326.8 61.8,326.7 67.1,326.7 72.4,326.6 77.7,326.5 83.1,326.4 88.4,326.4 93.7,326.3 99.1,326.3 104.4,326.2 109.7,326.1 115.0,326.1 120.4,326.0 125.7,325.9 131.0,325.9 136.4,325.8 141.7,325.7 147.0,325.6 152.4,325.6 157.7,325.5 163.0,325.4 168.3,325.3 173.7,325.3 179.0,325.2 184.3,325.1 189.7,325.0 195.0,324.9 200.3,324.8 205.7,324.7 211.0,324.6 216.3,324.5 221.6,324.4 227.0,324.3 232.3,324.2 237.6,324.1 243.0,324.0 248.3,323.9 253.6,323.8 259.0,323.6 264.3,323.5 269.6,323.4 274.9,323.3 280.3,323.1 285.6,323.0 290.9,322.9 296.3,322.7 301.6,322.6 306.9,322.4 312.3,322.3 317.6,322.1 322.9,322.0 328.2,321.8 333.6,321.7 338.9,321.5 344.2,321.4 349.6,321.2 354.9,321.1 360.2,320.9 365.6,320.8 370.9,320.6 376.2,320.5 381.6,320.3 386.9,320.1 392.2,320.0 397.5,319.8 402.9,319.7 408.2,319.5 413.5,319.4 418.9,319.2 424.2,319.1 429.5,319.0 434.9,318.8 440.2,318.7 445.5,318.6 450.8,318.4 456.2,318.3 461.5,318.2"/>
<polyline class="c" stroke="#008000" points="35.1,327.1 40.4,327.0 45.8,326.9 51.1,326.8 56.4,326.8 61.8,326.7 67.1,326.6 72.4,326.5 77.7,326.3 83.1,326.2 88.4,326.1 93.7,326.0 99.1,325.9 104.4,325.7 109.7,325.6 115.0,325.5 120.4,325.3 125.7,325.2 131.0,325.0 136.4,324.9 141.7,324.7 147.0,324.5 152.4,324.4 157.7,324.2 163.0,324.0 168.3,323.8 173.7,323.6 179.0,323.4 184.3,323.2 189.7,323.0 195.0,322.8 200.3,322.6 205.7,322.3 211.0,322.1 216.3,321.9 221.6,321.6 227.0,321.4 232.3,321.1 237.6,320.9 243.0,320.6 248.3,320.3 253.6,320.1 259.0,319.8 264.3,319.5 269.6,319.2 274.9,318.9 280.3,318.6 285.6,318.3 290.9,318.0 296.3,317.7 301.6,317.3 306.9,317.0 312.3,316.7 317.6,316.3 322.9,316.0 328.2,315.6 333.6,315.3 338.9,314.9 344.2,314.6 349.6,314.2 354.9,313.8 360.2,313.4 365.6,313.0 370.9,312.7 376.2,312.3 381.6,311.9 386.9,311.5 392.2,311.0 397.5,310.6 402.9,310.2 408.2,309.8 413.5,309.4 418.9,308.9 424.2,308.5 429.5,308.1 434.9,307.6 440.2,307.2 445.5,306.7 450.8,306.3 456.2,305.8 461.5,305.3"/>
<polyline class="c" stroke="#ff0000" points="35.1,327.1 40.4,327.0 45.8,326.9 51.1,326.8 56.4,326.7 61.8,326.6 67.1,326.5 72.4,326.3 77.7,326.2 83.1,326.0 88.4,325.9 93.7,325.7 99.1,325.5 104.4,325.3 109.7,325.1 115.0,324.9 120.4,324.7 125.7,324.5 131.0,324.2 136.4,324.0 141.7,323.7 147.0,323.5 152.4,323.2 157.7,322.9 163.0,322.6 168.3,322.3 173.7,322.0 179.0,321.7 184.3,321.4 189.7,321.0 195.0,320.7 200.3,320.4 205.7,320.0 211.0,319.6 216.3,319.3 221.6,318.9 227.0,318.5 232.3,318.1 237.6,317.7 243.0,317.3 248.3,316.9 253.6,316.4 259.0,316.0 264.3,315.6 269.6,315.1 274.9,314.6 280.3,314.2 285.6,313.7 290.9,313.2 296.3,312.7 301.6,312.2 306.9,311.7 312.3,311.1 317.6,310.6 322.9,310.0 328.2,309.5 333.6,308.9 338.9,308.4 344.2,307.8 349.6,307.2 354.9,306.6 360.2,306.0 365.6,305.3 370.9,304.7 376.2,304.0 381.6,303.4 386.9,302.7 392.2,302.0 397.5,301.4 402.9,300.7 408.2,299.9 413.5,299.2 418.9,298.5 424.2,297.7 429.5,297.0 434.9,296.2 440.2,295.4 445.5,294.6 450.8,293.8 456.2,293.0 461.5,292.2"/>
<polyline class="c" stroke="#00bfbf" points="35.1,327.1 40.4,327.0 45.8,326.9 51.1,326.8 56.4,326.7 61.8,326.6 67.1,326.4 72.4,326.2 77.7,326.0 83.1,325.8 88.4,325.6 93.7,325.4 99.1,325.1 104.4,324.9 109.7,324.6 115.0,324.3 120.4,324.0 125.7,323.7 131.0,323.4 136.4,323.1 141.7,322.7 147.0,322.4 152.4,322.0 157.7,321.6 163.0,321.2 168.3,320.8 173.7,320.4 179.0,320.0 184.3,319.6 189.7,319.1 195.0,318.7 200.3,318.2 205.7,317.7 211.0,317.2 216.3,316.7 221.6,316.2 227.0,315.7 232.3,315.1 237.6,314.6 243.0,314.0 248.3,313.4 253.6,312.9 259.0,312.3 264.3,311.7 269.6,311.0 274.9,310.4 280.3,309.8 285.6,309.1 290.9,308.4 296.3,307.7 301.6,307.0 306.9,306.3 312.3,305.6 317.6,304.9 322.9,304.1 328.2,303.4 333.6,302.6 338.9,301.8 344.2,301.0 349.6,300.2 354.9,299.3 360.2,298.5 365.6,297.6 370.9,296.7 376.2,295.8 381.6,294.9 386.9,293.9 392.2,293.0 397.5,292.0 402.9,291.0 408.2,290.0 413.5,289.0 418.9,287.9 424.2,286.8 429.5,285.7 434.9,284.6 440.2,283.5 445.5,282.3 450.8,281.1 456.2,279.9 461.5,278.7"/>
<polyline class="c" stroke="#bf00bf" points="35.1,327.1 40.4,327.0 45.8,326.9 51.1,326.8 56.4,326.6 61.8,326.5 67.1,326.3 72.4,326.1 77.7,325.9 83.1,325.6 88.4,325.4 93.7,325.1 99.1,324.8 104.4,324.5 109.7,324.1 115.0,323.8 120.4,323.4 125.7,323.0 131.0,322.6 136.4,322.2 141.7,321.8 147.0,321.3 152.4,320.9 157.7,320.4 163.0,319.9 168.3,319.4 173.7,318.9 179.0,318.3 184.3,317.8 189.7,317.2 195.0,316.7 200.3,316.1 205.7,315.5 211.0,314.8 216.3,314.2 221.6,313.5 227.0,312.9 232.3,312.2 237.6,311.5 243.0,310.8 248.3,310.1 253.6,309.3 259.0,308.6 264.3,307.8 269.6,307.0 274.9,306.2 280.3,305.4 285.6,304.6 290.9,303.7 296.3,302.8 301.6,302.0 306.9,301.1 312.3,300.1 317.6,299.2 322.9,298.2 328.2,297.3 333.6,296.3 338.9,295.3 344.2,294.2 349.6,293.2 354.9,292.1 360.2,291.0 365.6,289.9 370.9,288.7 376.2,287.5 381.6,286.3 386.9,285.1 392.2,283.9 397.5,282.6 402.9,281.3 408.2,280.0 413.5,278.6 418.9,277.3 424.2,275.8 429.5,274.4 434.9,272.9 440.2,271.4 445.5,269.9 450.8,268.3 456.2,266.7 461.5,265.1"/>
<polyline class="c" stroke="#bfbf00" points="35.1,327.1 40.4,327.0 45.8,326.9 51.1,326.8 56.4,326.6 61.8,326.4 67.1,326.2 72.4,325.9 77.7,325.7 83.1,325.4 88.4,325.1 93.7,324.7 99.1,324.4 104.4,324.0 109.7,323.6 115.0,323.2 120.4,322.8 125.7,322.3 131.0,321.8 136.4,321.3 141.7,320.8 147.0,320.3 152.4,319.7 157.7,319.2 163.0,318.6 168.3,318.0 173.7,317.4 179.0,316.7 184.3,316.1 189.7,315.4 195.0,314.7 200.3,314.0 205.7,313.2 211.0,312.5 216.3,311.7 221.6,310.9 227.0,310.1 232.3,309.3 237.6,308.5 243.0,307.6 248.3,306.8 253.6,305.9 259.0,304.9 264.3,304.0 269.6,303.1 274.9,302.1 280.3,301.1 285.6,300.1 290.9,299.0 296.3,298.0 301.6,296.9 306.9,295.8 312.3,294.7 317.6,293.5 322.9,292.4 328.2,291.2 333.6,290.0 338.9,288.7 344.2,287.4 349.6,286.1 354.9,284.8 360.2,283.5 365.6,282.1 370.9,280.7 376.2,279.2 381.6,277.8 386.9,276.2 392.2,274.7 397.5,273.1 402.9,271.5 408.2,269.9 413.5,268.2 418.9,266.5 424.2,264.8 429.5,263.0 434.9,261.2 440.2,259.3 445.5,257.4 450.8,255.4 456.2,253.4 461.5,251.4"/>
<polyline class="c" stroke="#404040" points="35.1,327.1 40.4,327.0 45.8,326.9 51.1,326.7 56.4,326.5 61.8,326.3 67.1,326.0 72.4,325.7 77.7,325.4 83.1,325.1 88.4,324.7 93.7,324.4 99.1,324.0 104.4,323.5 109.7,323.1 115.0,322.6 120.4,322.1 125.7,321.6 131.0,321.0 136.4,320.5 141.7,319.9 147.0,319.3 152.4,318.6 157.7,318.0 163.0,317.3 168.3,316.6 173.7,315.9 179.0,315.1 184.3,314.4 189.7,313.6 195.0,312.8 200.3,311.9 205.7,311.1 211.0,310.2 216.3,309.3 221.6,308.4 227.0,307.5 232.3,306.5 237.6,305.5 243.0,304.5 248.3,303.5 253.6,302.4 259.0,301.4 264.3,300.3 269.6,299.2 274.9,298.0 280.3,296.8 285.6,295.6 290.9,294.4 296.3,293.2 301.6,291.9 306.9,290.6 312.3,289.3 317.6,287.9 322.9,286.5 328.2,285.1 333.6,283.6 338.9,282.2 344.2,280.6 349.6,279.1 354.9,277.5 360.2,275.9 365.6,274.3 370.9,272.6 376.2,270.9 381.6,269.1 386.9,267.3 392.2,265.5 397.5,263.6 402.9,261.7 408.2,259.8 413.5,257.8 418.9,255.7 424.2,253.6 429.5,251.5 434.9,249.3 440.2,247.1 445.5,244.8 450.8,242.5 456.2,240.1 461.5,237.7"/>
<polyline class="c" stroke="#0000ff" points="35.1,327.1 40.4,327.0 45.8,326.8 51.1,326.6 56.4,326.4 61.8,326.1 67.1,325.8 72.4,325.5 77.7,325.1 83.1,324.8 88.4,324.4 93.7,323.9 99.1,323.5 104.4,323.0 109.7,322.5 115.0,322.0 120.4,321.4 125.7,320.8 131.0,320.2 136.4,319.6 141.7,318.9 147.0,318.2 152.4,317.5 157.7,316.8 163.0,316.0 168.3,315.2 173.7,314.4 179.0,313.6 184.3,312.7 189.7,311.8 195.0,310.9 200.3,310.0 205.7,309.0 211.0,308.0 216.3,307.0 221.6,305.9 227.0,304.9 232.3,303.8 237.6,302.6 243.0,301.5 248.3,300.3 253.6,299.1 259.0,297.9 264.3,296.6 269.6,295.3 274.9,294.0 280.3,292.6 285.6,291.2 290.9,289.8 296.3,288.4 301.6,286.9 306.9,285.4 312.3,283.8 317.6,282.2 322.9,280.6 328.2,279.0 333.6,277.3 338.9,275.6 344.2,273.8 349.6,272.0 354.9,270.2 360.2,268.3 365.6,266.4 370.9,264.5 376.2,262.5 381.6,260.4 386.9,258.3 392.2,256.2 397.5,254.0 402.9,251.8 408.2,249.6 413.5,247.3 418.9,244.9 424.2,242.5 429.5,240.0 434.9,237.5 440.2,234.9 445.5,232.3 450.8,229.6 456.2,226.9 461.5,224.1"/>
<polyline class="c" stroke="#008000" points="35.1,327.1 40.4,326.9 45.8,326.7 51.1,326.5 56.4,326.2 61.8,325.9 67.1,325.5 72.4,325.2 77.7,324.8 83.1,324.4 88.4,323.9 93.7,323.5 99.1,323.0 104.4,322.4 109.7,321.9 115.0,321.3 120.4,320.7 125.7,320.0 131.0,319.4 136.4,318.7 141.7,317.9 147.0,317.2 152.4,316.4 157.7,315.6 163.0,314.7 168.3,313.9 173.7,313.0 179.0,312.0 184.3,311.1 189.7,310.1 195.0,309.1 200.3,308.0 205.7,306.9 211.0,305.8 216.3,304.7 221.6,303.5 227.0,302.3 232.3,301.1 237.6,299.8 243.0,298.5 248.3,297.2 253.6,295.8 259.0,294.4 264.3,293.0 269.6,291.5 274.9,290.0 280.3,288.4 285.6,286.9 290.9,285.2 296.3,283.6 301.6,281.9 306.9,280.2 312.3,278.4 317.6,276.6 322.9,274.7 328.2,272.9 333.6,270.9 338.9,269.0 344.2,267.0 349.6,264.9 354.9,262.8 360.2,260.7 365.6,258.5 370.9,256.3 376.2,254.0 381.6,251.7 386.9,249.3 392.2,246.9 397.5,244.4 402.9,241.9 408.2,239.3 413.5,236.7 418.9,234.1 424.2,231.3 429.5,228.6 434.9,225.7 440.2,222.8 445.5,219.9 450.8,216.9 456.2,213.9 461.5,210.7"/>
<polyline class="c" stroke="#ff0000" points="35.1,327.1 40.4,326.9 45.8,326.6 51.1,326.3 56.4,325.9 61.8,325.6 67.1,325.2 72.4,324.8 77.7,324.4 83.1,323.9 88.4,323.4 93.7,322.9 99.1,322.4 104.4,321.8 109.7,321.2 115.0,320.6 120.4,319.9 125.7,319.2 131.0,318.5 136.4,317.7 141.7,317.0 147.0,316.1 152.4,315.3 157.7,314.4 163.0,313.5 168.3,312.6 173.7,311.6 179.0,310.6 184.3,309.5 189.7,308.4 195.0,307.3 200.3,306.2 205.7,305.0 211.0,303.7 216.3,302.5 221.6,301.2 227.0,299.8 232.3,298.5 237.6,297.0 243.0,295.6 248.3,294.1 253.6,292.6 259.0,291.0 264.3,289.4 269.6,287.7 274.9,286.0 280.3,284.3 285.6,282.5 290.9,280.7 296.3,278.8 301.6,276.9 306.9,275.0 312.3,273.0 317.6,270.9 322.9,268.8 328.2,266.7 333.6,264.5 338.9,262.3 344.2,260.0 349.6,257.7 354.9,255.4 360.2,253.0 365.6,250.5 370.9,248.0 376.2,245.5 381.6,242.9 386.9,240.2 392.2,237.5 397.5,234.7 402.9,231.9 408.2,229.1 413.5,226.2 418.9,223.2 424.2,220.2 429.5,217.2 434.9,214.0 440.2,210.9 445.5,207.6 450.8,204.4 456.2,201.0 461.5,197.6"/>
<text x="35.1" y="349.4" text-anchor="middle">0</text>
<text x="77.7" y="349.4" text-anchor="middle">0.1</text>
<text x="120.4" y="349.4" text-anchor="middle">0.2</text>
<text x="163.0" y="349.4" text-anchor="middle">0.3</text>
<text x="205.7" y="349.4" text-anchor="middle">0.4</text>
<text x="248.3" y="349.4" text-anchor="middle">0.5</text>
<text x="290.9" y="349.4" text-anchor="middle">0.6</text>
<text x="333.6" y="349.4" text-anchor="middle">0.7</text>
<text x="376.2" y="349.4" text-anchor="middle">0.8</text>
<text x="418.9" y="349.4" text-anchor="middle">0.9</text>
<text x="461.5" y="349.4" text-anchor="middle">1</text>
<text x="30.9" y="338.6" text-anchor="end">0</text>
<text x="30.9" y="304.1" text-anchor="end">5</text>
<text x="30.9" y="269.7" text-anchor="end">10</text>
<text x="30.9" y="235.2" text-anchor="end">15</text>
<text x="30.9" y="200.7" text-anchor="end">20</text>
<text x="248.3" y="364.4" text-anchor="middle">t</text>
<text transform="translate(9.2 265.1) rotate(-90)" text-anchor="middle">u(t)</text>
<rect class="bx" x="59.9" y="219.5" width="39.9" height="14.7"/>
<text x="66.3" y="233.9">q=0.8</text>
</g>
<g>
<rect class="ax" x="596.6" y="196.1" width="426.3" height="137.9"/>
<path class="ax" d="M639.2 334.0v-4.2M639.2 196.1v4.2M681.9 334.0v-4.2M681.9 196.1v4.2M724.5 334.0v-4.2M724.5 196.1v4.2M767.1 334.0v-4.2M767.1 196.1v4.2M809.8 334.0v-4.2M809.8 196.1v4.2M852.4 334.0v-4.2M852.4 196.1v4.2M895.0 334.0v-4.2M895.0 196.1v4.2M937.6 334.0v-4.2M937.6 196.1v4.2M980.3 334.0v-4.2M980.3 196.1v4.2M596.6 288.0h4.2M1022.9 288.0h-4.2M596.6 242.1h4.2M1022.9 242.1h-4.2"/>
<polyline class="c" stroke="#0000ff" points="596.6,324.8 601.9,324.7 607.3,324.7 612.6,324.6 617.9,324.6 623.2,324.5 628.6,324.5 633.9,324.4 639.2,324.4 644.6,324.4 649.9,324.3 655.2,324.3 660.5,324.3 665.9,324.2 671.2,324.2 676.5,324.2 681.9,324.1 687.2,324.1 692.5,324.1 697.8,324.0 703.2,324.0 708.5,323.9 713.8,323.9 719.2,323.8 724.5,323.8 729.8,323.7 735.1,323.7 740.5,323.6 745.8,323.5 751.1,323.5 756.5,323.4 761.8,323.3 767.1,323.2 772.4,323.1 777.8,323.0 783.1,322.9 788.4,322.8 793.8,322.7 799.1,322.6 804.4,322.5 809.8,322.3 815.1,322.2 820.4,322.1 825.7,321.9 831.1,321.8 836.4,321.7 841.7,321.5 847.1,321.3 852.4,321.2 857.7,321.0 863.0,320.8 868.4,320.7 873.7,320.5 879.0,320.3 884.4,320.1 889.7,320.0 895.0,319.8 900.3,319.6 905.7,319.4 911.0,319.2 916.3,319.0 921.7,318.8 927.0,318.6 932.3,318.4 937.6,318.3 943.0,318.1 948.3,317.9 953.6,317.7 959.0,317.5 964.3,317.3 969.6,317.1 974.9,317.0 980.3,316.8 985.6,316.6 990.9,316.5 996.3,316.3 1001.6,316.2 1006.9,316.0 1012.2,315.9 1017.6,315.8 1022.9,315.7"/>
<polyline class="c" stroke="#008000" points="596.6,324.8 601.9,324.7 607.3,324.7 612.6,324.6 617.9,324.5 623.2,324.5 628.6,324.4 633.9,324.3 639.2,324.3 644.6,324.2 649.9,324.2 655.2,324.1 660.5,324.0 665.9,324.0 671.2,323.9 676.5,323.8 681.9,323.7 687.2,323.7 692.5,323.6 697.8,323.5 703.2,323.4 708.5,323.3 713.8,323.2 719.2,323.0 724.5,322.9 729.8,322.8 735.1,322.7 740.5,322.5 745.8,322.4 751.1,322.2 756.5,322.0 761.8,321.9 767.1,321.7 772.4,321.5 777.8,321.3 783.1,321.1 788.4,320.8 793.8,320.6 799.1,320.4 804.4,320.1 809.8,319.9 815.1,319.6 820.4,319.3 825.7,319.0 831.1,318.8 836.4,318.5 841.7,318.1 847.1,317.8 852.4,317.5 857.7,317.2 863.0,316.8 868.4,316.5 873.7,316.1 879.0,315.7 884.4,315.4 889.7,315.0 895.0,314.6 900.3,314.2 905.7,313.8 911.0,313.4 916.3,313.0 921.7,312.5 927.0,312.1 932.3,311.7 937.6,311.2 943.0,310.8 948.3,310.3 953.6,309.9 959.0,309.4 964.3,309.0 969.6,308.5 974.9,308.1 980.3,307.6 985.6,307.1 990.9,306.7 996.3,306.2 1001.6,305.8 1006.9,305.3 1012.2,304.8 1017.6,304.4 1022.9,303.9"/>
<polyline class="c" stroke="#ff0000" points="596.6,324.8 601.9,324.7 607.3,324.7 612.6,324.6 617.9,324.5 623.2,324.5 628.6,324.4 633.9,324.3 639.2,324.2 644.6,324.2 649.9,324.1 655.2,324.0 660.5,323.9 665.9,323.8 671.2,323.6 676.5,323.5 681.9,323.4 687.2,323.2 692.5,323.1 697.8,322.9 703.2,322.8 708.5,322.6 713.8,322.4 719.2,322.2 724.5,322.0 729.8,321.8 735.1,321.6 740.5,321.4 745.8,321.2 751.1,320.9 756.5,320.6 761.8,320.4 767.1,320.1 772.4,319.8 777.8,319.5 783.1,319.2 788.4,318.8 793.8,318.5 799.1,318.1 804.4,317.8 809.8,317.4 815.1,317.0 820.4,316.6 825.7,316.2 831.1,315.7 836.4,315.3 841.7,314.8 847.1,314.4 852.4,313.9 857.7,313.4 863.0,312.9 868.4,312.4 873.7,311.8 879.0,311.3 884.4,310.7 889.7,310.2 895.0,309.6 900.3,309.0 905.7,308.4 911.0,307.8 916.3,307.1 921.7,306.5 927.0,305.8 932.3,305.1 937.6,304.5 943.0,303.8 948.3,303.1 953.6,302.3 959.0,301.6 964.3,300.9 969.6,300.1 974.9,299.4 980.3,298.6 985.6,297.8 990.9,297.0 996.3,296.2 1001.6,295.4 1006.9,294.6 1012.2,293.8 1017.6,292.9 1022.9,292.1"/>
<polyline class="c" stroke="#00bfbf" points="596.6,324.8 601.9,324.8 607.3,324.7 612.6,324.7 617.9,324.6 623.2,324.5 628.6,324.4 633.9,324.3 639.2,324.2 644.6,324.1 649.9,324.0 655.2,323.9 660.5,323.7 665.9,323.6 671.2,323.4 676.5,323.2 681.9,323.0 687.2,322.9 692.5,322.6 697.8,322.4 703.2,322.2 708.5,322.0 713.8,321.7 719.2,321.4 724.5,321.2 729.8,320.9 735.1,320.6 740.5,320.3 745.8,319.9 751.1,319.6 756.5,319.2 761.8,318.9 767.1,318.5 772.4,318.1 777.8,317.7 783.1,317.3 788.4,316.8 793.8,316.4 799.1,315.9 804.4,315.4 809.8,314.9 815.1,314.4 820.4,313.9 825.7,313.3 831.1,312.8 836.4,312.2 841.7,311.6 847.1,311.0 852.4,310.4 857.7,309.7 863.0,309.0 868.4,308.4 873.7,307.7 879.0,307.0 884.4,306.2 889.7,305.5 895.0,304.7 900.3,303.9 905.7,303.1 911.0,302.3 916.3,301.4 921.7,300.6 927.0,299.7 932.3,298.8 937.6,297.9 943.0,296.9 948.3,295.9 953.6,295.0 959.0,294.0 964.3,292.9 969.6,291.9 974.9,290.8 980.3,289.7 985.6,288.6 990.9,287.5 996.3,286.3 1001.6,285.1 1006.9,283.9 1012.2,282.7 1017.6,281.4 1022.9,280.2"/>
<polyline class="c" stroke="#bf00bf" points="596.6,324.8 601.9,324.8 607.3,324.8 612.6,324.7 617.9,324.6 623.2,324.6 628.6,324.5 633.9,324.4 639.2,324.2 644.6,324.1 649.9,323.9 655.2,323.8 660.5,323.6 665.9,323.4 671.2,323.2 676.5,323.0 681.9,322.7 687.2,322.5 692.5,322.2 697.8,321.9 703.2,321.6 708.5,321.3 713.8,321.0 719.2,320.6 724.5,320.3 729.8,319.9 735.1,319.5 740.5,319.1 745.8,318.7 751.1,318.3 756.5,317.8 761.8,317.4 767.1,316.9 772.4,316.4 777.8,315.9 783.1,315.4 788.4,314.8 793.8,314.3 799.1,313.7 804.4,313.1 809.8,312.5 815.1,311.8 820.4,311.2 825.7,310.5 831.1,309.8 836.4,309.1 841.7,308.4 847.1,307.6 852.4,306.9 857.7,306.1 863.0,305.3 868.4,304.4 873.7,303.6 879.0,302.7 884.4,301.8 889.7,300.8 895.0,299.9 900.3,298.9 905.7,297.9 911.0,296.9 916.3,295.8 921.7,294.7 927.0,293.6 932.3,292.5 937.6,291.3 943.0,290.1 948.3,288.9 953.6,287.6 959.0,286.4 964.3,285.0 969.6,283.7 974.9,282.3 980.3,280.9 985.6,279.4 990.9,277.9 996.3,276.4 1001.6,274.8 1006.9,273.2 1012.2,271.6 1017.6,269.9 1022.9,268.2"/>
<polyline class="c" stroke="#bfbf00" points="596.6,324.8 601.9,324.8 607.3,324.8 612.6,324.7 617.9,324.7 623.2,324.6 628.6,324.5 633.9,324.4 639.2,324.2 644.6,324.1 649.9,323.9 655.2,323.7 660.5,323.4 665.9,323.2 671.2,323.0 676.5,322.7 681.9,322.4 687.2,322.1 692.5,321.7 697.8,321.4 703.2,321.0 708.5,320.7 713.8,320.3 719.2,319.9 724.5,319.4 729.8,319.0 735.1,318.5 740.5,318.0 745.8,317.5 751.1,317.0 756.5,316.5 761.8,315.9 767.1,315.3 772.4,314.7 777.8,314.1 783.1,313.5 788.4,312.9 793.8,312.2 799.1,311.5 804.4,310.8 809.8,310.0 815.1,309.3 820.4,308.5 825.7,307.7 831.1,306.9 836.4,306.1 841.7,305.2 847.1,304.3 852.4,303.4 857.7,302.4 863.0,301.5 868.4,300.5 873.7,299.5 879.0,298.4 884.4,297.3 889.7,296.2 895.0,295.1 900.3,293.9 905.7,292.7 911.0,291.5 916.3,290.2 921.7,288.9 927.0,287.6 932.3,286.2 937.6,284.8 943.0,283.3 948.3,281.8 953.6,280.3 959.0,278.7 964.3,277.1 969.6,275.5 974.9,273.7 980.3,272.0 985.6,270.2 990.9,268.4 996.3,266.5 1001.6,264.5 1006.9,262.5 1012.2,260.5 1017.6,258.4 1022.9,256.2"/>
<polyline class="c" stroke="#404040" points="596.6,324.8 601.9,324.8 607.3,324.8 612.6,324.7 617.9,324.7 623.2,324.6 628.6,324.5 633.9,324.3 639.2,324.2 644.6,324.0 649.9,323.8 655.2,323.5 660.5,323.3 665.9,323.0 671.2,322.7 676.5,322.4 681.9,322.0 687.2,321.7 692.5,321.3 697.8,320.9 703.2,320.5 708.5,320.0 713.8,319.6 719.2,319.1 724.5,318.6 729.8,318.1 735.1,317.5 740.5,317.0 745.8,316.4 751.1,315.8 756.5,315.1 761.8,314.5 767.1,313.8 772.4,313.1 777.8,312.4 783.1,311.7 788.4,310.9 793.8,310.2 799.1,309.4 804.4,308.5 809.8,307.7 815.1,306.8 820.4,305.9 825.7,305.0 831.1,304.0 836.4,303.0 841.7,302.0 847.1,301.0 852.4,299.9 857.7,298.8 863.0,297.7 868.4,296.5 873.7,295.3 879.0,294.1 884.4,292.9 889.7,291.6 895.0,290.2 900.3,288.8 905.7,287.4 911.0,286.0 916.3,284.5 921.7,283.0 927.0,281.4 932.3,279.8 937.6,278.1 943.0,276.4 948.3,274.6 953.6,272.8 959.0,271.0 964.3,269.1 969.6,267.1 974.9,265.1 980.3,263.0 985.6,260.9 990.9,258.7 996.3,256.5 1001.6,254.2 1006.9,251.8 1012.2,249.4 1017.6,246.9 1022.9,244.3"/>
<polyline class="c" stroke="#0000ff" points="596.6,324.8 601.9,324.8 607.3,324.8 612.6,324.7 617.9,324.6 623.2,324.5 628.6,324.4 633.9,324.2 639.2,324.0 644.6,323.8 649.9,323.6 655.2,323.3 660.5,323.0 665.9,322.7 671.2,322.4 676.5,322.0 681.9,321.6 687.2,321.2 692.5,320.8 697.8,320.4 703.2,319.9 708.5,319.4 713.8,318.9 719.2,318.3 724.5,317.8 729.8,317.2 735.1,316.6 740.5,315.9 745.8,315.3 751.1,314.6 756.5,313.9 761.8,313.2 767.1,312.4 772.4,311.6 777.8,310.8 783.1,310.0 788.4,309.1 793.8,308.2 799.1,307.3 804.4,306.4 809.8,305.4 815.1,304.4 820.4,303.3 825.7,302.3 831.1,301.2 836.4,300.1 841.7,298.9 847.1,297.7 852.4,296.5 857.7,295.2 863.0,293.9 868.4,292.5 873.7,291.2 879.0,289.7 884.4,288.3 889.7,286.8 895.0,285.2 900.3,283.7 905.7,282.0 911.0,280.4 916.3,278.6 921.7,276.9 927.0,275.0 932.3,273.2 937.6,271.3 943.0,269.3 948.3,267.3 953.6,265.2 959.0,263.0 964.3,260.8 969.6,258.6 974.9,256.3 980.3,253.9 985.6,251.4 990.9,248.9 996.3,246.4 1001.6,243.7 1006.9,241.0 1012.2,238.2 1017.6,235.4 1022.9,232.4"/>
<polyline class="c" stroke="#008000" points="596.6,324.8 601.9,324.8 607.3,324.7 612.6,324.6 617.9,324.5 623.2,324.3 628.6,324.2 633.9,324.0 639.2,323.8 644.6,323.5 649.9,323.3 655.2,323.0 660.5,322.7 665.9,322.3 671.2,322.0 676.5,321.6 681.9,321.2 687.2,320.8 692.5,320.3 697.8,319.8 703.2,319.3 708.5,318.8 713.8,318.2 719.2,317.6 724.5,317.0 729.8,316.4 735.1,315.7 740.5,315.0 745.8,314.3 751.1,313.5 756.5,312.8 761.8,311.9 767.1,311.1 772.4,310.2 777.8,309.3 783.1,308.4 788.4,307.4 793.8,306.4 799.1,305.4 804.4,304.3 809.8,303.2 815.1,302.0 820.4,300.9 825.7,299.6 831.1,298.4 836.4,297.1 841.7,295.8 847.1,294.4 852.4,293.0 857.7,291.5 863.0,290.0 868.4,288.5 873.7,286.9 879.0,285.3 884.4,283.6 889.7,281.9 895.0,280.1 900.3,278.3 905.7,276.4 911.0,274.5 916.3,272.5 921.7,270.5 927.0,268.4 932.3,266.3 937.6,264.1 943.0,261.9 948.3,259.6 953.6,257.2 959.0,254.8 964.3,252.3 969.6,249.8 974.9,247.2 980.3,244.5 985.6,241.8 990.9,239.0 996.3,236.1 1001.6,233.2 1006.9,230.2 1012.2,227.1 1017.6,223.9 1022.9,220.7"/>
<polyline class="c" stroke="#ff0000" points="596.6,324.8 601.9,324.7 607.3,324.5 612.6,324.4 617.9,324.2 623.2,324.0 628.6,323.8 633.9,323.6 639.2,323.4 644.6,323.1 649.9,322.8 655.2,322.5 660.5,322.2 665.9,321.9 671.2,321.5 676.5,321.1 681.9,320.7 687.2,320.2 692.5,319.8 697.8,319.3 703.2,318.7 708.5,318.2 713.8,317.6 719.2,317.0 724.5,316.3 729.8,315.6 735.1,314.9 740.5,314.2 745.8,313.4 751.1,312.6 756.5,311.7 761.8,310.8 767.1,309.9 772.4,308.9 777.8,307.9 783.1,306.9 788.4,305.8 793.8,304.7 799.1,303.5 804.4,302.3 809.8,301.1 815.1,299.8 820.4,298.4 825.7,297.0 831.1,295.6 836.4,294.1 841.7,292.6 847.1,291.0 852.4,289.4 857.7,287.8 863.0,286.0 868.4,284.3 873.7,282.5 879.0,280.6 884.4,278.7 889.7,276.7 895.0,274.7 900.3,272.6 905.7,270.5 911.0,268.3 916.3,266.1 921.7,263.8 927.0,261.4 932.3,259.0 937.6,256.6 943.0,254.1 948.3,251.5 953.6,248.8 959.0,246.2 964.3,243.4 969.6,240.6 974.9,237.7 980.3,234.8 985.6,231.8 990.9,228.7 996.3,225.6 1001.6,222.5 1006.9,219.2 1012.2,215.9 1017.6,212.6 1022.9,209.1"/>
<text x="596.6" y="349.4" text-anchor="middle">0</text>
<text x="639.2" y="349.4" text-anchor="middle">0.1</text>
<text x="681.9" y="349.4" text-anchor="middle">0.2</text>
<text x="724.5" y="349.4" text-anchor="middle">0.3</text>
<text x="767.1" y="349.4" text-anchor="middle">0.4</text>
<text x="809.8" y="349.4" text-anchor="middle">0.5</text>
<text x="852.4" y="349.4" text-anchor="middle">0.6</text>
<text x="895.0" y="349.4" text-anchor="middle">0.7</text>
<text x="937.6" y="349.4" text-anchor="middle">0.8</text>
<text x="980.3" y="349.4" text-anchor="middle">0.9</text>
<text x="1022.9" y="349.4" text-anchor="middle">1</text>
<text x="592.4" y="338.6" text-anchor="end">0</text>
<text x="592.4" y="292.6" text-anchor="end">5</text>
<text x="592.4" y="246.7" text-anchor="end">10</text>
<text x="592.4" y="200.7" text-anchor="end">15</text>
<text x="809.8" y="364.4" text-anchor="middle">t</text>
<text transform="translate(570.7 265.1) rotate(-90)" text-anchor="middle">u(t)</text>
<rect class="bx" x="624.9" y="215.5" width="42.3" height="13.7"/>
<text x="631.3" y="229.2">q=1.0</text>
</g>
</svg></body></html>
